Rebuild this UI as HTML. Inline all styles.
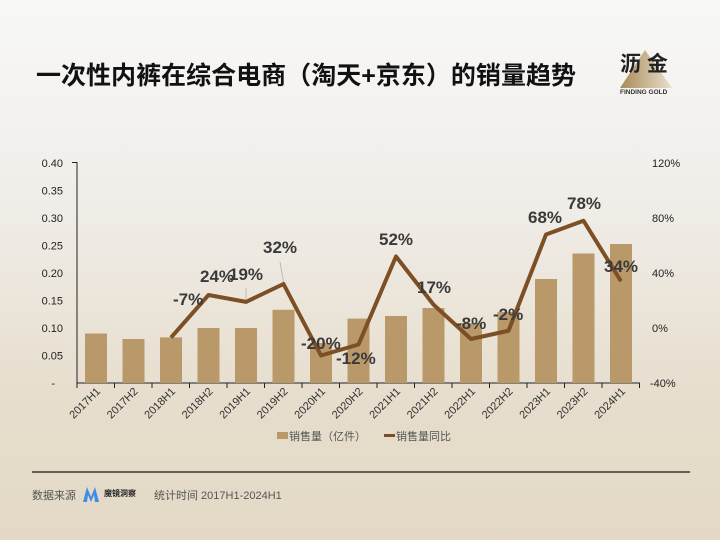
<!DOCTYPE html>
<html><head><meta charset="utf-8"><style>
body{margin:0;width:720px;height:540px;overflow:hidden;background:linear-gradient(#f8f8f7 0%,#f1eeea 35%,#e6ddcc 75%,#e3d9c6 100%);font-family:"Liberation Sans","Noto Sans CJK SC",sans-serif;}
</style></head><body>
<svg width="720" height="540" xmlns="http://www.w3.org/2000/svg" style="position:absolute;left:0;top:0;font-family:'Liberation Sans','Noto Sans CJK SC',sans-serif">
<text x="36" y="84" font-size="25" font-weight="bold" fill="#111" textLength="540" lengthAdjust="spacingAndGlyphs">一次性内裤在综合电商（淘天+京东）的销量趋势</text>
<defs><linearGradient id="g" x1="0" x2="1"><stop offset="0" stop-color="#a88a55"/><stop offset="1" stop-color="#e8e0d0"/></linearGradient></defs>
<polygon points="620,88 645,50 672,88" fill="url(#g)"/>
<text x="620" y="71" font-size="21" font-weight="bold" fill="#222">沥 金</text>
<text x="620" y="94" font-size="6.5" font-weight="bold" fill="#333">FINDING GOLD</text>
<g font-size="11" fill="#222" text-anchor="end">
<text x="63" y="167">0.40</text><text x="63" y="222">0.30</text><text x="63" y="194.5">0.35</text><text x="63" y="249.5">0.25</text><text x="63" y="277">0.20</text><text x="63" y="304.5">0.15</text><text x="63" y="332">0.10</text><text x="63" y="359.5">0.05</text><text x="55" y="387">-</text>
</g>
<g font-size="11" fill="#222">
<text x="652" y="167">120%</text><text x="652" y="222">80%</text><text x="652" y="277">40%</text><text x="652" y="332">0%</text><text x="650" y="387">-40%</text>
</g>
<line x1="77" y1="162" x2="77" y2="384" stroke="#222" stroke-width="1"/>
<line x1="72" y1="162.5" x2="77" y2="162.5" stroke="#222" stroke-width="1"/>
<line x1="77" y1="383" x2="640" y2="383" stroke="#222" stroke-width="1"/>
<g stroke="#222" stroke-width="1">
<line x1="77" y1="383" x2="77" y2="388"/><line x1="114.5" y1="383" x2="114.5" y2="388"/><line x1="152" y1="383" x2="152" y2="388"/><line x1="189.5" y1="383" x2="189.5" y2="388"/><line x1="227" y1="383" x2="227" y2="388"/><line x1="264.5" y1="383" x2="264.5" y2="388"/><line x1="302" y1="383" x2="302" y2="388"/><line x1="339.5" y1="383" x2="339.5" y2="388"/><line x1="377" y1="383" x2="377" y2="388"/><line x1="414.5" y1="383" x2="414.5" y2="388"/><line x1="452" y1="383" x2="452" y2="388"/><line x1="489.5" y1="383" x2="489.5" y2="388"/><line x1="527" y1="383" x2="527" y2="388"/><line x1="564.5" y1="383" x2="564.5" y2="388"/><line x1="602" y1="383" x2="602" y2="388"/><line x1="639.5" y1="383" x2="639.5" y2="388"/>
</g>
<g fill="#b9986a">
<rect x="85" y="333.5" width="22" height="49.5"/>
<rect x="122.5" y="339" width="22" height="44"/>
<rect x="160" y="337.4" width="22" height="45.6"/>
<rect x="197.5" y="328" width="22" height="55"/>
<rect x="235" y="328" width="22" height="55"/>
<rect x="272.5" y="309.8" width="22" height="73.2"/>
<rect x="310" y="343" width="22" height="40"/>
<rect x="347.5" y="318.6" width="22" height="64.4"/>
<rect x="385" y="316" width="22" height="67"/>
<rect x="422.5" y="308" width="22" height="75"/>
<rect x="460" y="323" width="22" height="60"/>
<rect x="497.5" y="312" width="22" height="71"/>
<rect x="535" y="279" width="22" height="104"/>
<rect x="572.5" y="253.5" width="22" height="129.5"/>
<rect x="610" y="244" width="22" height="139"/>
</g>
<g stroke="#bbb" stroke-width="1"><line x1="246" y1="299" x2="246" y2="288"/><line x1="283.5" y1="282" x2="280" y2="262"/></g>
<polyline fill="none" stroke="#7d4f25" stroke-width="4" stroke-linejoin="round" points="171,337.6 208.5,295 246,301.9 283.5,284 321,355.5 358.5,344.5 396,256.5 433.5,304.6 471,339 508.5,330.75 546,234.5 583.5,220.75 621,281.25"/>
<g font-size="17" font-weight="bold" fill="#3a3a3a">
<text x="173" y="305">-7%</text><text x="200" y="282">24%</text><text x="229" y="280">19%</text><text x="263" y="253">32%</text><text x="301" y="349">-20%</text><text x="336" y="364">-12%</text><text x="379" y="245">52%</text><text x="417" y="293">17%</text><text x="456" y="329">-8%</text><text x="493" y="320">-2%</text><text x="528" y="223">68%</text><text x="567" y="209">78%</text><text x="604" y="272">34%</text>
</g>
<g font-size="11" fill="#333" text-anchor="end">
<text transform="translate(101,392) rotate(-45)">2017H1</text>
<text transform="translate(138.5,392) rotate(-45)">2017H2</text>
<text transform="translate(176,392) rotate(-45)">2018H1</text>
<text transform="translate(213.5,392) rotate(-45)">2018H2</text>
<text transform="translate(251,392) rotate(-45)">2019H1</text>
<text transform="translate(288.5,392) rotate(-45)">2019H2</text>
<text transform="translate(326,392) rotate(-45)">2020H1</text>
<text transform="translate(363.5,392) rotate(-45)">2020H2</text>
<text transform="translate(401,392) rotate(-45)">2021H1</text>
<text transform="translate(438.5,392) rotate(-45)">2021H2</text>
<text transform="translate(476,392) rotate(-45)">2022H1</text>
<text transform="translate(513.5,392) rotate(-45)">2022H2</text>
<text transform="translate(551,392) rotate(-45)">2023H1</text>
<text transform="translate(588.5,392) rotate(-45)">2023H2</text>
<text transform="translate(626,392) rotate(-45)">2024H1</text>
</g>
<rect x="277" y="432" width="11" height="7" fill="#b9986a"/>
<text x="289" y="440" font-size="11" fill="#555">销售量（亿件）</text>
<rect x="384" y="434" width="11" height="3" fill="#7d4f25"/>
<text x="396" y="440" font-size="11" fill="#555">销售量同比</text>
<line x1="32" y1="472" x2="690" y2="472" stroke="#3a3530" stroke-width="1.5"/>
<text x="32" y="499" font-size="11" fill="#555">数据来源</text>
<polygon points="83,502 87,487 91,497 95,487 99,502 95,502 94,495 91,502 88,495 87,502" fill="#3f8de6"/>
<text x="104" y="496" font-size="8" font-weight="bold" fill="#222">魔镜洞察</text>
<text x="154" y="499" font-size="11" fill="#555">统计时间 2017H1-2024H1</text>
</svg>
</body></html>
